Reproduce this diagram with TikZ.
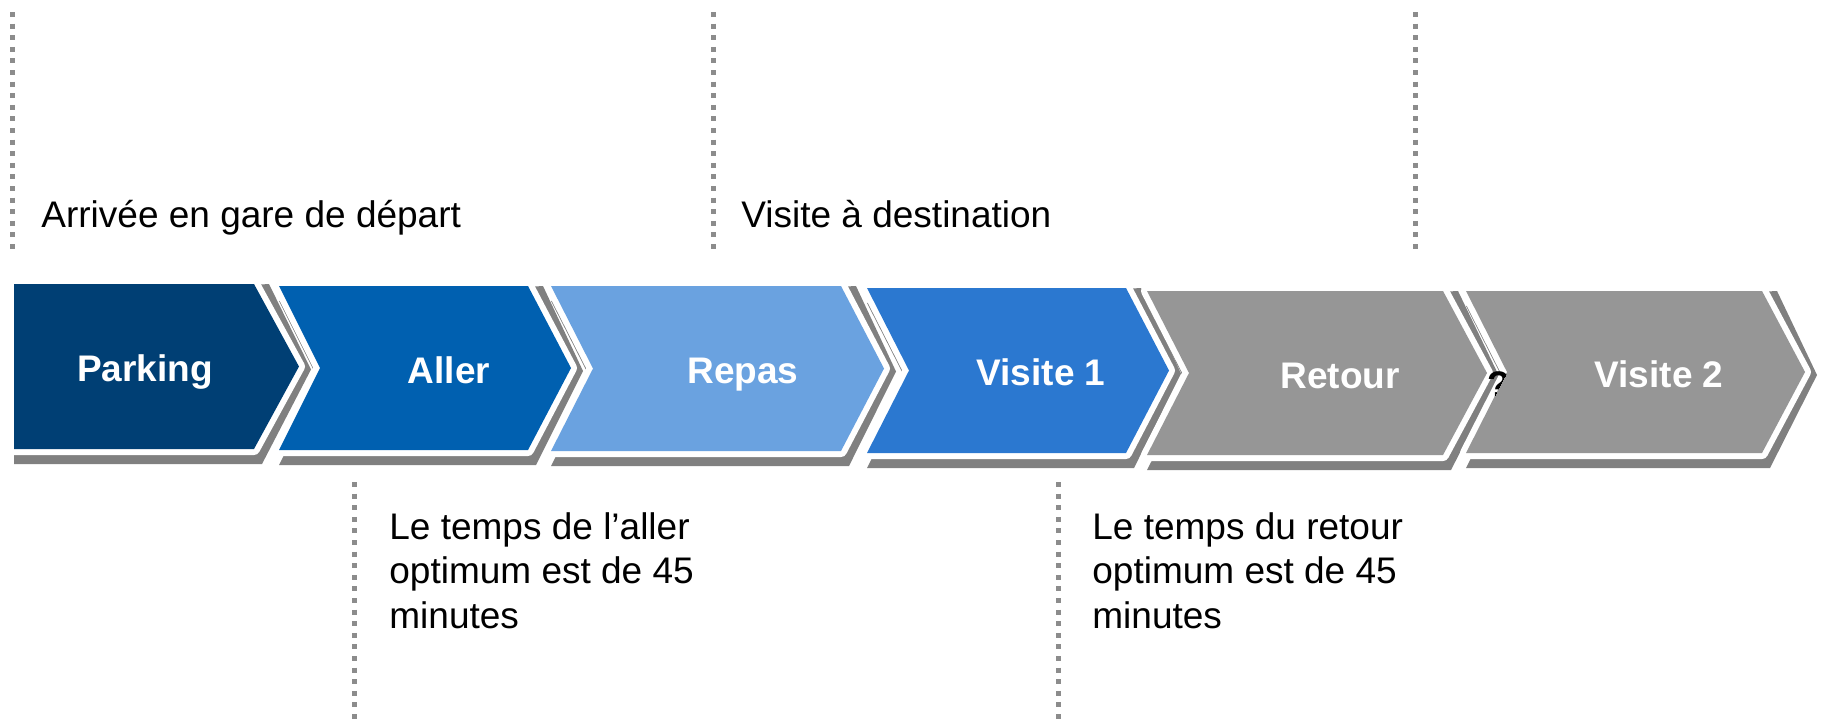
\documentclass[tikz,border=0pt]{standalone}
\usepackage{fontspec}
\setmainfont{Liberation Sans}
\definecolor{parkblue}{HTML}{003F74}
\definecolor{allerblue}{HTML}{0060B0}
\definecolor{repasblue}{HTML}{6AA2E0}
\definecolor{visitblue}{HTML}{2B78D0}
\definecolor{stepgray}{HTML}{969696}
\definecolor{shadowgray}{HTML}{808080}
\definecolor{sepgray}{HTML}{8C8C8C}

\begin{document}
\begin{tikzpicture}[x=0.5pt,y=-0.5pt,
  txt/.style={font=\fontsize{18.5}{22.3}\selectfont,inner sep=0pt,align=left},
  lbl/.style={font=\fontsize{18.5}{22.3}\selectfont\bfseries,text=white,inner sep=0pt,anchor=base},
  sep/.style={draw=sepgray,line width=2.5pt,dash pattern=on 2.5pt off 3.3pt},
  rim/.style={draw=white,line width=6pt,line join=round}]
\useasboundingbox (0,0) rectangle (1823,724);
% dotted separators
\foreach \x in {12,713,1415} \draw[sep] (\x,12) -- (\x,252);
\foreach \x in {354,1058} \draw[sep] (\x,482) -- (\x,724);
% chevrons: left, notch, right, tip, top, bottom, colour, name, text, text x
\foreach \l/\n/\r/\p/\t/\b/\c/\name/\txt/\lx in {
  14/14/254/299/284/449/parkblue/park/Parking/145,
  279/320/528/571/286/450/allerblue/aller/Aller/449,
  551/593/841/884/286/451/repasblue/repas/Repas/743,
  867/909/1126/1169/288/453/visitblue/visit1/{Visite 1}/1041,
  1147/1189/1443/1487/291/455/stepgray/retour/Retour/1340,
  1466/1507/1762/1805/291/453/stepgray/visit2/{Visite 2}/1659} {
  \pgfmathsetmacro\m{(\t+\b)/2}
  \fill[shadowgray] (\l,\t+15) -- (\r+15,\t) -- (\p+12,\m+3) -- (\r+8,\b+15) -- (\l,\b+15) -- (\n,\m+15) -- cycle;
  \draw[rim] (\l,\t) -- (\r,\t) -- (\p,\m) -- (\r,\b) -- (\l,\b) -- (\n,\m) -- cycle;
  \fill[\c] (\l,\t) -- (\r,\t) -- (\p,\m) -- (\r,\b) -- (\l,\b) -- (\n,\m) -- cycle;
  \node[lbl] (\name) at (\lx,\m+15) {\txt};
}
% hidden mark behind Visite 2
\begin{scope}
\clip (1440,291) -- (1466,291) -- (1507,372) -- (1466,453) -- (1440,453) -- cycle;
\node[font=\fontsize{18.5}{22}\selectfont\bfseries,inner sep=0pt,anchor=base] (mark) at (1499,397) {?};
\end{scope}
% texts
\node[txt,anchor=base west] (arrive) at (41,227) {Arrivée en gare de départ};
\node[txt,anchor=base west] (dest) at (741,227) {Visite à destination};
\node[txt,anchor=north west] (allertime) at (389,512) {Le temps de l’aller\\optimum est de 45\\minutes};
\node[txt,anchor=north west] (retourtime) at (1092,512) {Le temps du retour\\optimum est de 45\\minutes};
\end{tikzpicture}
\end{document}
